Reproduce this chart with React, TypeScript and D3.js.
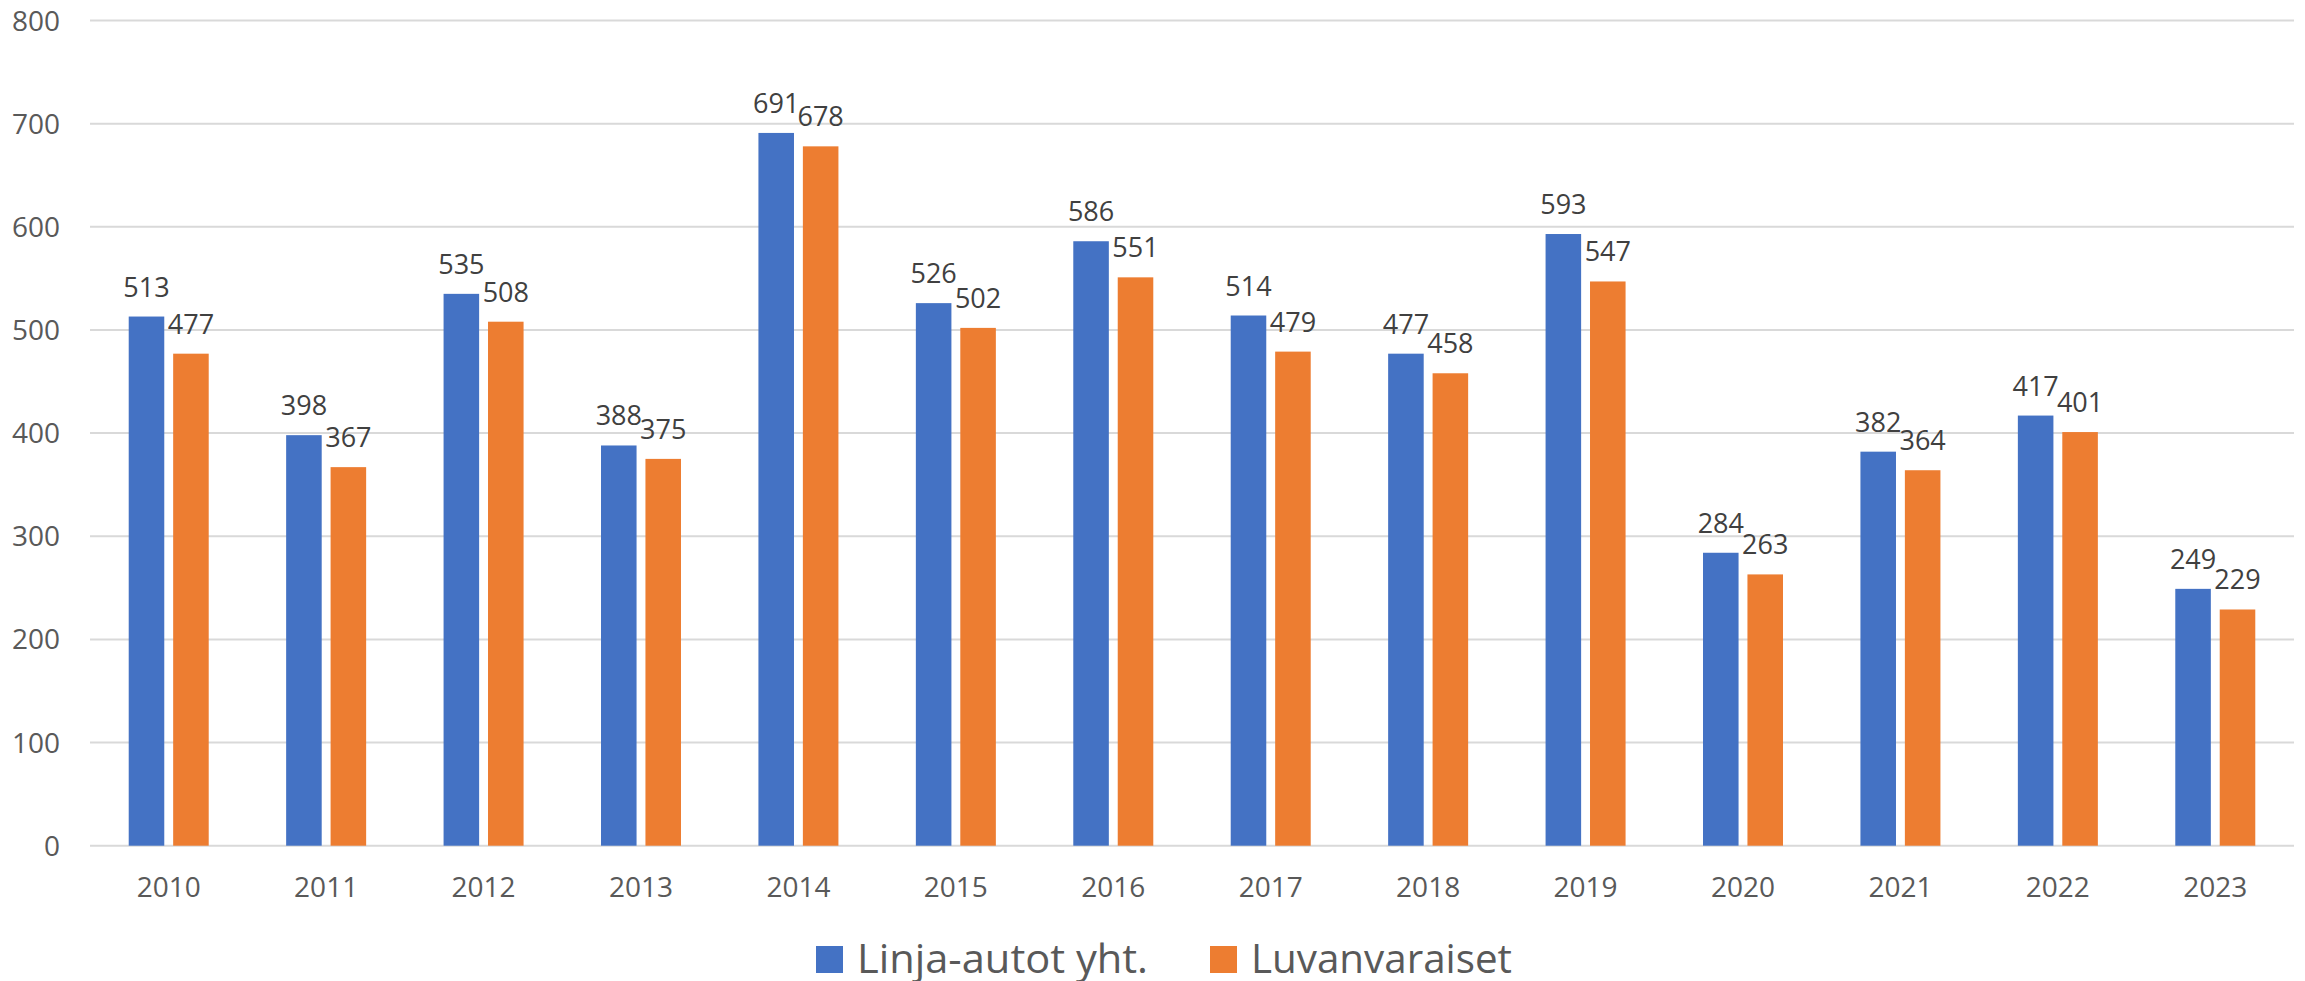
import React, { useRef, useEffect } from 'react';
import * as d3 from 'd3';

// vuodet ja sarjat
const years = ['2010', '2011', '2012', '2013', '2014', '2015', '2016', '2017', '2018', '2019', '2020', '2021', '2022', '2023'];
const linjaAutot = [513, 398, 535, 388, 691, 526, 586, 514, 477, 593, 284, 382, 417, 249];
const luvanvaraiset = [477, 367, 508, 375, 678, 502, 551, 479, 458, 547, 263, 364, 401, 229];
const seriesNames = ['Linja-autot yht.', 'Luvanvaraiset'];
const seriesColors = ['#4472C4', '#ED7D31'];
const yTicks = [0, 100, 200, 300, 400, 500, 600, 700, 800];

const W = 2305;
const H = 981;
const FONT = '"Open Sans", "Liberation Sans", sans-serif';

const App = () => {
    const ref = useRef<SVGSVGElement | null>(null);

    useEffect(() => {
        const svg = d3.select(ref.current);
        svg.selectAll('*').remove();

        const left = 90, right = 2294, top = 20.5, bottom = 845.7;

        const x0 = d3.scaleBand().domain(years).range([left, right]).paddingInner(0).paddingOuter(0);
        const x1 = d3.scaleBand().domain(seriesNames).range([-40, 40]).paddingInner(0.2);
        const y = d3.scaleLinear().domain([0, 800]).range([bottom, top]);

        // gridlines
        svg.append('g')
            .selectAll('line')
            .data(yTicks)
            .enter().append('line')
            .attr('x1', left)
            .attr('x2', right)
            .attr('y1', d => y(d))
            .attr('y2', d => y(d))
            .style('stroke', '#d9d9d9')
            .style('stroke-width', 2);

        // y labels
        svg.append('g')
            .selectAll('text')
            .data(yTicks)
            .enter().append('text')
            .attr('x', 60)
            .attr('y', d => y(d))
            .attr('dy', '0.36em')
            .attr('text-anchor', 'end')
            .style('font-family', FONT)
            .style('font-size', '28px')
            .style('fill', '#595959')
            .text(d => d);

        // x labels
        svg.append('g')
            .selectAll('text')
            .data(years)
            .enter().append('text')
            .attr('x', d => x0(d)! + x0.bandwidth() / 2)
            .attr('y', 896.5)
            .attr('text-anchor', 'middle')
            .style('font-family', FONT)
            .style('font-size', '28px')
            .style('fill', '#595959')
            .text(d => d);

        const rows = years.map((yr, i) => ({ year: yr, values: [linjaAutot[i], luvanvaraiset[i]] }));

        const groups = svg.append('g')
            .selectAll('g')
            .data(rows)
            .enter().append('g')
            .attr('transform', d => `translate(${x0(d.year)! + x0.bandwidth() / 2},0)`);

        groups.selectAll('rect')
            .data(d => d.values.map((v, k) => ({ v, k })))
            .enter().append('rect')
            .attr('x', d => x1(seriesNames[d.k])!)
            .attr('width', x1.bandwidth())
            .attr('y', d => y(d.v))
            .attr('height', d => y(0) - y(d.v))
            .style('fill', d => seriesColors[d.k]);

        // data labels
        groups.selectAll('text')
            .data(d => d.values.map((v, k) => ({ v, k })))
            .enter().append('text')
            .attr('x', d => x1(seriesNames[d.k])! + x1.bandwidth() / 2)
            .attr('y', d => y(d.v) - 20)
            .attr('text-anchor', 'middle')
            .style('font-family', FONT)
            .style('font-size', '27px')
            .style('fill', '#404040')
            .text(d => d.v);

        // legend
        const legendX = [816, 1210];
        const legendW = [291, 261];
        const legend = svg.append('g')
            .selectAll('g')
            .data(seriesNames)
            .enter().append('g')
            .attr('transform', (d, i) => `translate(${legendX[i]},0)`);

        legend.append('rect')
            .attr('x', 0)
            .attr('y', 946)
            .attr('width', 27)
            .attr('height', 27)
            .style('fill', (d, i) => seriesColors[i]);

        legend.append('text')
            .attr('x', 41)
            .attr('y', 972.5)
            .attr('textLength', (d, i) => legendW[i])
            .attr('lengthAdjust', 'spacingAndGlyphs')
            .style('font-family', FONT)
            .style('font-size', '40px')
            .style('fill', '#595959')
            .text(d => d);
    }, []);

    return (
        <svg
            ref={ref as React.Ref<SVGSVGElement>}
            width={W}
            height={H}
            style={{ position: 'absolute', left: 0, top: 0, background: '#fff' }}
        />
    );
};

export default App;
